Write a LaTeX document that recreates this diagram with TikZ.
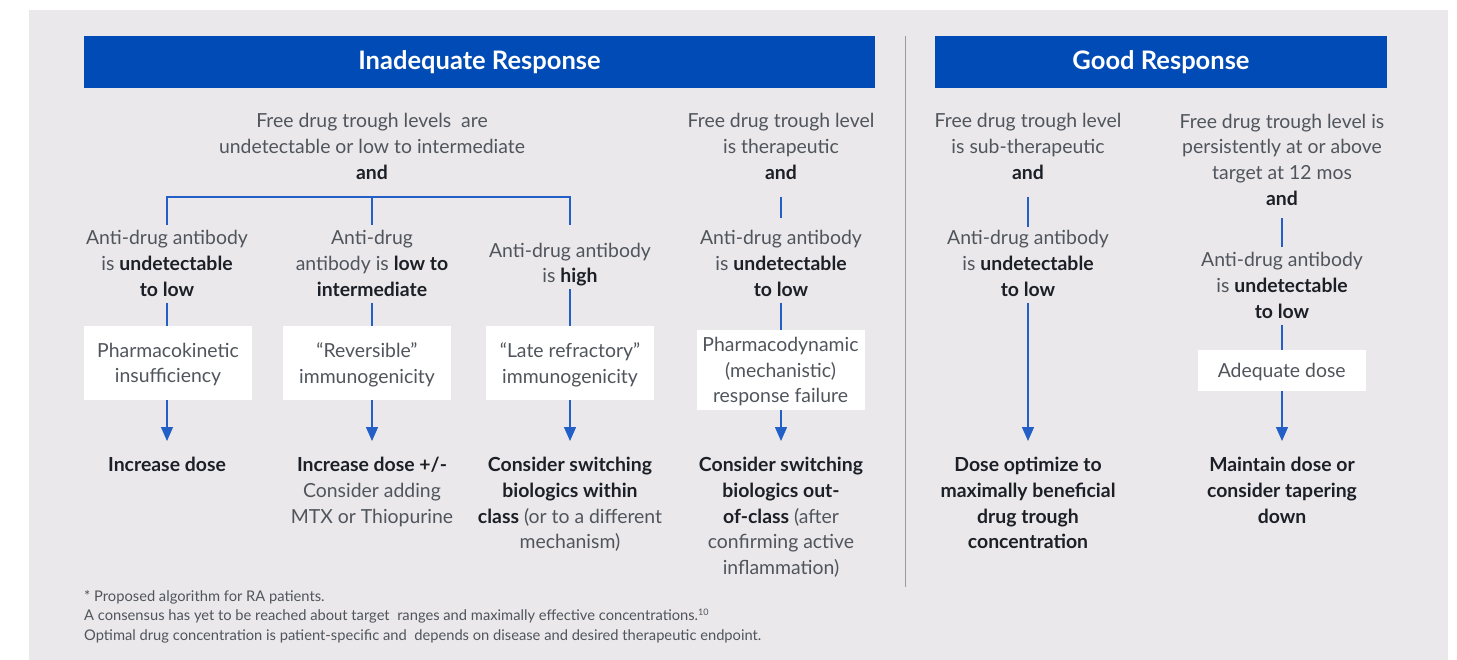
\documentclass[tikz,border=0pt]{standalone}
\usepackage{fontspec}
\setmainfont{Lato}
\usetikzlibrary{arrows.meta}
\definecolor{bg}{HTML}{EAE8EB}
\definecolor{hblue}{HTML}{004BB5}
\definecolor{lblue}{HTML}{2260C8}
\definecolor{txt}{HTML}{50555C}
\definecolor{btxt}{HTML}{1C2026}
\definecolor{divc}{HTML}{9A9A9E}
\newcommand{\B}[1]{\textbf{\color{btxt}#1}}
\tikzset{
  hdr/.style={fill=hblue, text=white, font=\fontsize{25.5}{28}\selectfont\bfseries, minimum height=52pt, inner sep=0pt},
  lbl/.style={align=center, text=txt, font=\fontsize{19.4}{25.7}\selectfont, inner xsep=0pt, inner ysep=3pt},
  res/.style={align=center, text=txt, font=\fontsize{19.4}{25.7}\selectfont, inner xsep=0pt, inner ysep=16pt, anchor=north},
  boxn/.style={fill=white, align=center, text=txt, font=\fontsize{19.4}{25.7}\selectfont, minimum width=168pt, inner sep=0pt, text depth=0pt},
  conn/.style={draw=lblue, line width=1.4pt},
  arr/.style={conn, -{Triangle[width=12pt,length=14pt]}},
}
\begin{document}
\begin{tikzpicture}[x=1pt,y=-1pt]
\useasboundingbox (0,0) rectangle (1457,660);
\fill[white] (0,0) rectangle (1457,660);
\fill[bg] (29,10) rectangle (1448,660);
% headers
\node[hdr, minimum width=791pt] (h1) at (479.5,62) {Inadequate Response};
\node[hdr, minimum width=452pt] (h2) at (1161,62) {Good Response};
\draw[divc, line width=1pt] (905,36) -- (905,587);
% top texts
\node[lbl] (t1) at (372,146.5) {Free drug trough levels\ \ are\\undetectable or low to intermediate\\\B{and}};
\node[lbl] (t4) at (781,146.5) {Free drug trough level\\is therapeutic\\\B{and}};
\node[lbl] (t5) at (1028,146.5) {Free drug trough level\\is sub-therapeutic\\\B{and}};
\node[lbl] (t6) at (1282,159.5) {Free drug trough level is\\persistently at or above\\target at 12 mos\\\B{and}};
% antibody texts
\node[lbl] (a1) at (167,263.5) {Anti-drug antibody\\is \B{undetectable}\\\B{to low}};
\node[lbl] (a2) at (372,263.5) {Anti-drug\\antibody is \B{low to}\\\B{intermediate}};
\node[lbl] (a3) at (570,264.5) {Anti-drug antibody\\is \B{high}};
\node[lbl] (a4) at (781,263.5) {Anti-drug antibody\\is \B{undetectable}\\\B{to low}};
\node[lbl] (a5) at (1028,263.5) {Anti-drug antibody\\is \B{undetectable}\\\B{to low}};
\node[lbl] (a6) at (1282,285.5) {Anti-drug antibody\\is \B{undetectable}\\\B{to low}};
% boxes
\node[boxn, minimum height=74pt] (b1) at (168,363) {Pharmacokinetic\\insufficiency};
\node[boxn, minimum height=74pt] (b2) at (367,363) {\char"201CReversible\char"201D\\immunogenicity};
\node[boxn, minimum height=74pt] (b3) at (570,363) {\char"201CLate refractory\char"201D\\immunogenicity};
\node[boxn, minimum height=80pt] (b4) at (780.5,370) {Pharmacodynamic\\(mechanistic)\\response failure};
\node[boxn, minimum height=41pt] (b6) at (1281.7,370.5) {Adequate dose};
% results
\node[res] (r1) at (167,441) {\B{Increase dose}};
\node[res] (r2) at (372,441) {\B{Increase dose +/-}\\Consider adding\\MTX or Thiopurine};
\node[res] (r3) at (570,441) {\B{Consider switching}\\\B{biologics within}\\\B{class} (or to a different\\mechanism)};
\node[res] (r4) at (781,441) {\B{Consider switching}\\\B{biologics out-}\\\B{of-class} (after\\confirming active\\inflammation)};
\node[res] (r5) at (1028,441) {\B{Dose optimize to}\\\B{maximally beneficial}\\\B{drug trough}\\\B{concentration}};
\node[res] (r6) at (1282,441) {\B{Maintain dose or}\\\B{consider tapering}\\\B{down}};
% bracket
\coordinate (k1) at (167,225);
\coordinate (k2) at (372,225);
\coordinate (k3) at (570,225);
\coordinate (kb) at (372,197);
\draw[conn] (k1) |- (kb) -| (k3);
\draw[conn] (kb) -- (k2);
% short connectors
\draw[conn] ([yshift=-14pt]t4.south) -- ([yshift=9pt]a4.north);
\draw[conn] ([yshift=-14pt]t5.south) -- (a5.north);
\draw[conn] ([yshift=-10pt]t6.south) -- ([yshift=2pt]a6.north);
\draw[conn] ([yshift=-3pt]a1.south) -- (b1.north -| a1.south);
\draw[conn] ([yshift=-3pt]a2.south) -- (b2.north -| a2.south);
\draw[conn] (a3.south) -- (b3.north);
\draw[conn] ([yshift=-3pt]a4.south) -- (b4.north -| a4.south);
\draw[conn] ([yshift=-3pt]a6.south) -- (b6.north -| a6.south);
% arrows
\draw[arr] (b1.south -| r1.north) -- (r1.north);
\draw[arr] (b2.south -| r2.north) -- (r2.north);
\draw[arr] (b3.south) -- (r3.north);
\draw[arr] (b4.south -| r4.north) -- (r4.north);
\draw[arr] ([yshift=-3pt]a5.south) -- (r5.north);
\draw[arr] (b6.south -| r6.north) -- (r6.north);
% footnote
\node[anchor=north west, align=left, text=txt, font=\fontsize{14.7}{19.7}\selectfont, inner sep=0pt] (fn) at (84,590)
 {* Proposed algorithm for RA patients.\\
  A consensus has yet to be reached about target\ \ ranges and maximally effective concentrations.{\fontsize{9}{9}\selectfont\raisebox{5pt}{10}}\\
  Optimal drug concentration is patient-specific and\ \ depends on disease and desired therapeutic endpoint.};
\end{tikzpicture}
\end{document}
